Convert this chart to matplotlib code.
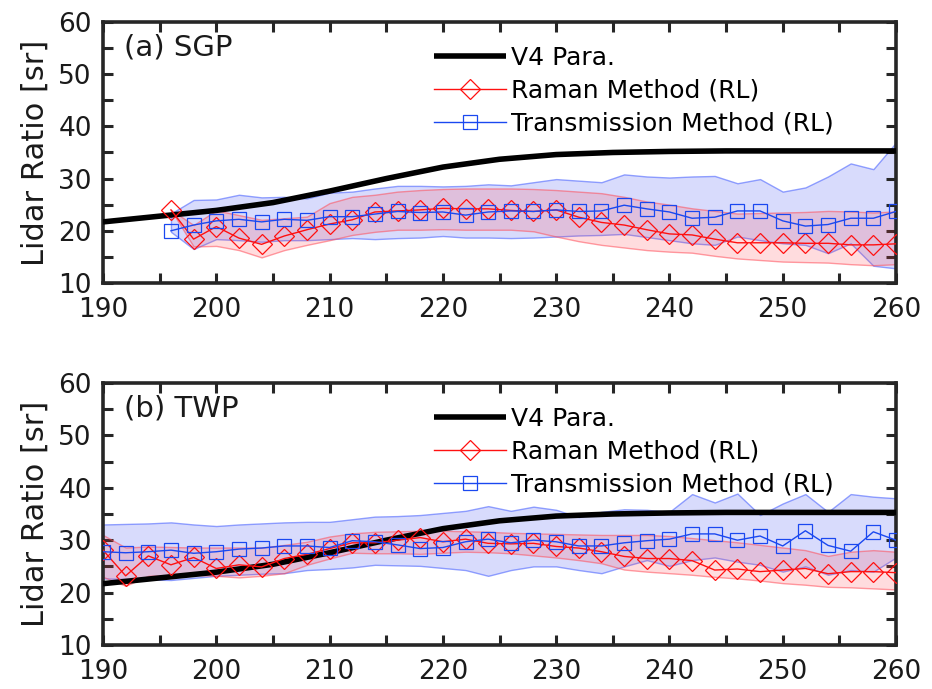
import matplotlib
matplotlib.use("Agg")
import matplotlib.pyplot as plt
from matplotlib.ticker import MultipleLocator

# ---------------- data ----------------
v4_x = [190, 195, 200, 205, 210, 215, 220, 225, 230, 235, 240, 245, 250, 255, 260]
v4_lr = [21.7, 22.8, 23.9, 25.4, 27.6, 30.0, 32.2, 33.7, 34.6, 35.0, 35.2, 35.3, 35.3, 35.3, 35.3]

# Panel (a) SGP
sgp_x = [196, 198, 200, 202, 204, 206, 208, 210, 212, 214, 216, 218, 220, 222, 224, 226,
         228, 230, 232, 234, 236, 238, 240, 242, 244, 246, 248, 250, 252, 254, 256, 258, 260]
sgp_raman = [24.0, 18.4, 20.8, 18.6, 17.4, 19.0, 20.2, 21.3, 22.1, 23.6, 23.8, 24.0, 24.3, 24.2, 24.2, 23.9,
             23.7, 24.0, 22.6, 21.6, 21.1, 20.2, 19.4, 19.2, 18.4, 17.7, 17.7, 17.7, 17.6, 17.6, 17.3, 17.3, 17.5]
sgp_raman_hi = [24.0, 21.1, 23.9, 23.0, 22.1, 22.4, 22.7, 25.3, 26.5, 26.9, 27.5, 27.8, 28.0, 28.1, 28.1, 28.1,
                28.0, 27.8, 27.5, 27.2, 26.5, 25.6, 25.0, 24.3, 23.8, 23.3, 23.4, 23.5, 23.6, 23.8, 23.7, 23.5, 23.7]
sgp_raman_lo = [24.0, 17.0, 17.1, 16.3, 14.9, 16.3, 17.3, 18.2, 19.2, 19.8, 20.2, 20.2, 20.3, 20.2, 20.2, 20.2,
                19.9, 18.9, 18.0, 17.3, 16.8, 16.3, 16.0, 15.8, 15.2, 14.7, 14.4, 14.1, 14.0, 13.9, 13.6, 13.4, 13.6]
sgp_trans = [20.0, 21.1, 21.9, 22.2, 21.7, 22.2, 22.0, 22.7, 22.7, 23.2, 23.7, 23.5, 23.6, 23.0, 23.6, 23.8,
             23.7, 24.0, 23.7, 23.8, 24.9, 24.2, 23.6, 22.4, 22.6, 23.8, 23.8, 21.9, 20.9, 21.2, 22.4, 22.4, 23.7]
sgp_trans_hi = [23.3, 25.9, 26.0, 26.9, 26.4, 26.5, 26.2, 27.3, 27.5, 28.1, 28.6, 28.6, 28.5, 28.6, 28.9, 28.7,
                29.3, 29.9, 29.6, 29.3, 30.8, 30.4, 30.2, 30.4, 30.5, 29.1, 29.9, 27.5, 28.3, 30.4, 32.9, 31.8, 36.9]
sgp_trans_lo = [19.8, 16.5, 18.4, 18.2, 17.9, 18.2, 18.2, 18.4, 18.6, 18.4, 18.6, 18.7, 19.0, 18.7, 18.7, 18.6,
                18.7, 18.9, 19.1, 19.2, 19.4, 18.8, 18.2, 17.6, 17.3, 18.9, 18.2, 17.6, 17.3, 15.7, 17.6, 13.3, 12.8]

# Panel (b) TWP
twp_x = [190, 192, 194, 196, 198, 200, 202, 204, 206, 208, 210, 212,
         214, 216, 218, 220, 222, 224, 226, 228, 230, 232, 234, 236,
         238, 240, 242, 244, 246, 248, 250, 252, 254, 256, 258, 260]
twp_raman = [28.1, 23.2, 27.0, 25.3, 26.7, 24.6, 25.3, 24.9, 26.5, 27.3, 28.4, 29.5,
             29.5, 30.0, 30.5, 29.7, 30.2, 29.4, 29.3, 29.4, 28.8, 28.5, 27.8, 26.9,
             26.5, 26.5, 26.1, 24.3, 24.5, 24.0, 24.3, 24.6, 23.6, 24.0, 24.0, 23.8]
twp_raman_hi = [31.0, 28.6, 28.8, 28.7, 28.6, 28.6, 28.6, 28.6, 29.1, 29.7, 30.7, 31.3,
                31.6, 31.7, 31.8, 31.8, 31.7, 31.6, 31.4, 31.3, 31.2, 31.1, 31.0, 31.0,
                31.0, 30.8, 30.4, 30.0, 29.6, 29.1, 28.6, 28.1, 27.0, 27.8, 28.1, 27.8]
twp_raman_lo = [23.0, 21.3, 23.2, 23.3, 23.4, 23.2, 22.9, 23.2, 23.7, 25.3, 26.5, 27.6,
                27.5, 27.5, 27.4, 27.6, 27.8, 27.7, 27.5, 27.1, 26.7, 26.2, 25.6, 24.4,
                24.0, 23.7, 23.4, 23.0, 22.7, 22.3, 21.8, 21.5, 21.1, 21.0, 20.8, 20.6]
twp_trans = [27.8, 27.6, 27.8, 28.1, 27.5, 27.8, 28.3, 28.5, 28.9, 28.9, 28.6, 29.9,
             29.7, 29.1, 28.4, 28.6, 29.7, 30.2, 29.5, 30.0, 29.7, 28.9, 28.9, 29.5,
             29.9, 30.2, 31.2, 31.2, 30.0, 30.8, 28.9, 31.8, 29.0, 27.9, 31.6, 30.0]
twp_trans_hi = [33.0, 33.1, 33.2, 33.4, 33.0, 32.7, 33.0, 33.2, 33.4, 33.5, 33.5, 34.0,
                34.5, 34.6, 34.8, 35.2, 35.6, 36.5, 35.6, 36.4, 35.8, 34.4, 35.4, 35.9,
                35.8, 35.4, 38.8, 37.2, 38.9, 34.8, 37.0, 38.8, 35.4, 38.8, 38.3, 38.0]
twp_trans_lo = [22.7, 22.6, 22.5, 22.4, 22.8, 23.2, 23.4, 23.6, 23.7, 24.3, 24.5, 24.8,
                25.3, 25.2, 25.1, 24.7, 24.3, 23.2, 24.3, 25.0, 25.0, 24.3, 23.7, 25.0,
                26.2, 25.1, 26.2, 26.7, 25.9, 25.3, 24.0, 25.0, 23.4, 24.3, 24.0, 26.7]

panel_titles = ["(a) SGP", "(b) TWP"]
legend_labels = ["V4 Para.", "Raman Method (RL)", "Transmission Method (RL)"]
xticks = [190, 200, 210, 220, 230, 240, 250, 260]
yticks = [10, 20, 30, 40, 50, 60]

# ---------------- figure ----------------
plt.rcParams['font.family'] = ['DejaVu Sans']
fig = plt.figure(figsize=(9.32, 6.89), dpi=100)

RED = '#ff1010'
BLUE = '#1a48f0'
AXC = '#262626'
TXT = '#1a1a1a'

rects = [[0.1105, 0.5893, 0.8509, 0.3788], [0.1105, 0.0639, 0.8509, 0.3802]]
panels = [
    (sgp_x, sgp_raman, sgp_raman_lo, sgp_raman_hi, sgp_trans, sgp_trans_lo, sgp_trans_hi),
    (twp_x, twp_raman, twp_raman_lo, twp_raman_hi, twp_trans, twp_trans_lo, twp_trans_hi),
]

for rect, title, (xx, r, rlo, rhi, t, tlo, thi) in zip(rects, panel_titles, panels):
    ax = fig.add_axes(rect)
    ax.fill_between(xx, tlo, thi, facecolor=(0.25, 0.3, 0.95, 0.2), edgecolor=(0.3, 0.4, 1.0, 0.6),
                    linewidth=1.0, zorder=1)
    ax.fill_between(xx, rlo, rhi, facecolor=(1.0, 0.25, 0.3, 0.18), edgecolor=(1.0, 0.3, 0.35, 0.55),
                    linewidth=1.0, zorder=2)
    l1, = ax.plot(v4_x, v4_lr, color='black', linewidth=4.0, zorder=3, label=legend_labels[0],
                  solid_capstyle='butt')
    l2, = ax.plot(xx, r, color=RED, linewidth=1.0, marker='D', markersize=10.5, markerfacecolor='none',
                  markeredgecolor=RED, markeredgewidth=0.9, zorder=4, label=legend_labels[1])
    l3, = ax.plot(xx, t, color=BLUE, linewidth=1.0, marker='s', markersize=9.5, markerfacecolor='none',
                  markeredgecolor=BLUE, markeredgewidth=0.9, zorder=5, label=legend_labels[2])

    ax.set_xlim(190, 260)
    ax.set_ylim(10, 60)
    ax.set_xticks(xticks)
    ax.set_yticks(yticks)
    ax.xaxis.set_minor_locator(MultipleLocator(5))
    ax.yaxis.set_minor_locator(MultipleLocator(5))
    ax.tick_params(which='both', direction='in', top=True, right=True, labelsize=19,
                   colors=AXC, labelcolor=TXT, width=2.2)
    ax.tick_params(which='both', length=7)
    ax.tick_params(axis='x', which='major', pad=10)
    ax.tick_params(axis='y', which='major', pad=8)
    for s in ax.spines.values():
        s.set_linewidth(2.6)
        s.set_color(AXC)
    ax.set_ylabel("Lidar Ratio [sr]", fontsize=22, color=TXT, labelpad=6)
    ax.text(0.027, 0.955, title, transform=ax.transAxes, fontsize=21, va='top', ha='left', color=TXT)
    ax.legend(handles=[l1, l2, l3], loc='upper left', bbox_to_anchor=(0.395, 0.975), frameon=False,
              fontsize=18, handlelength=2.9, handletextpad=0.2, labelspacing=0.35, borderpad=0.2)

fig.savefig("out.png", dpi=100)
